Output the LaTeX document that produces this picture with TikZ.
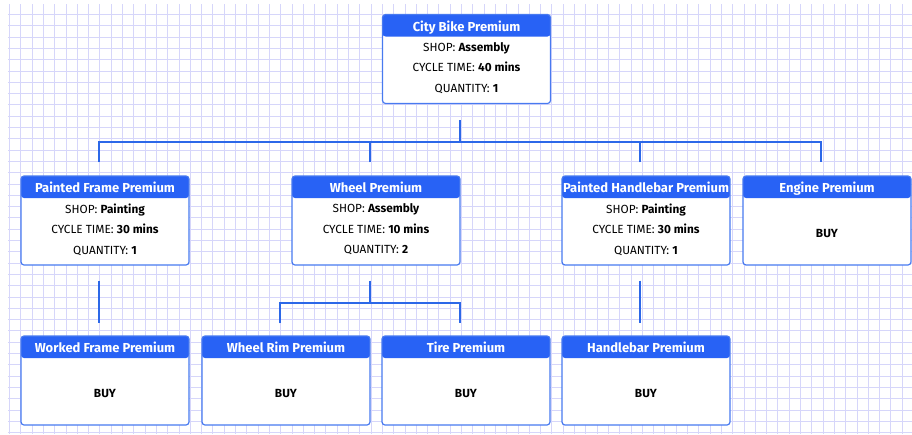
\documentclass[tikz,border=0pt]{standalone}
\usepackage{fontspec}
\setmainfont{Fira Sans}
\usepackage{tikz}
\usetikzlibrary{positioning,calc}

\definecolor{headblue}{RGB}{40,98,245}
\definecolor{edgeblue}{RGB}{72,122,240}
\definecolor{linkblue}{RGB}{44,104,232}
\definecolor{gridblue}{RGB}{214,214,250}

% one part card: name, centre, title, body
\newcommand{\partcard}[4]{%
  \node[card] (#1) at (#2) {};
  \node[cardtitle] (#1-title) at ([yshift=-14pt]#1.north) {#3};
  \node[cardtext] (#1-text) at ([yshift=-9pt]#1.center) {#4};
}
% a bought part: name, centre, title
\newcommand{\buycard}[3]{%
  \node[card] (#1) at (#2) {};
  \node[cardtitle] (#1-title) at ([yshift=-14pt]#1.north) {#3};
  \node[cardtext] (#1-text) at ([yshift=-13pt]#1.center) {\textbf{BUY}};
}

\begin{document}
\begin{tikzpicture}[
  x=1pt, y=-1pt,
  gridline/.style={gridblue, line width=0.5pt},
  card/.style={draw=edgeblue, line width=1.2pt, fill=white, rounded corners=3pt,
    minimum width=168pt, minimum height=89pt, inner sep=0pt,
    path picture={\fill[headblue] (path picture bounding box.north west)
      rectangle ([yshift=-22pt]path picture bounding box.north east);}},
  cardtitle/.style={text=white, font=\fontsize{13}{15}\selectfont\bfseries,
    inner sep=0pt, text height=9.5pt, text depth=2.5pt},
  cardtext/.style={align=center, font=\fontsize{11.8}{20.5}\selectfont, inner sep=0pt},
  link/.style={linkblue, line width=1.8pt}
]
\useasboundingbox (0,0) rectangle (912,434);
\fill[white] (0,0) rectangle (912,434);

% background grid
\foreach \i in {0,...,79}
  \draw[gridline] ({9.3+11.3*\i},4) -- ({9.3+11.3*\i},434);
\foreach \j in {1,...,38}
  \draw[gridline] (8,{3+11.3*\j}) -- (912,{3+11.3*\j});

% cards
\partcard{bike}{466.5,59}{City Bike Premium}{SHOP: \textbf{Assembly}\\CYCLE TIME: \textbf{40 mins}\\QUANTITY: \textbf{1}}
\partcard{frame}{105,220.5}{Painted Frame Premium}{SHOP: \textbf{Painting}\\CYCLE TIME: \textbf{30 mins}\\QUANTITY: \textbf{1}}
\partcard{wheel}{376,220.5}{Wheel Premium}{SHOP: \textbf{Assembly}\\CYCLE TIME: \textbf{10 mins}\\QUANTITY: \textbf{2}}
\partcard{handle}{646,220.5}{Painted Handlebar Premium}{SHOP: \textbf{Painting}\\CYCLE TIME: \textbf{30 mins}\\QUANTITY: \textbf{1}}
\buycard{engine}{827,220.5}{Engine Premium}
\buycard{worked}{105,380.5}{Worked Frame Premium}
\buycard{rim}{286,380.5}{Wheel Rim Premium}
\buycard{tire}{466,380.5}{Tire Premium}
\buycard{bar}{646,380.5}{Handlebar Premium}

% bike -> first level
\draw[link] ([xshift=-6.5pt,yshift=-16pt]bike.south) -- ++(0,22) coordinate (bus1);
\draw[link] ([xshift=-6pt,yshift=13pt]frame.north) |- (bus1) -| ([xshift=-6pt,yshift=13pt]engine.north);
\foreach \n in {wheel,handle}
  \draw[link] ([xshift=-6pt,yshift=13pt]\n.north) -- ++(0,-21);

% first level -> second level
\draw[link] ([xshift=-6pt,yshift=-15pt]frame.south) -- ([xshift=-6pt,yshift=12pt]worked.north);
\draw[link] ([xshift=-6pt,yshift=-15pt]wheel.south) -- ++(0,22) coordinate (bus2);
\draw[link] ([xshift=-6pt,yshift=12pt]rim.north) |- (bus2) -| ([xshift=-6pt,yshift=12pt]tire.north);
\draw[link] ([xshift=-6pt,yshift=-15pt]handle.south) -- ([xshift=-6pt,yshift=12pt]bar.north);
\end{tikzpicture}
\end{document}
